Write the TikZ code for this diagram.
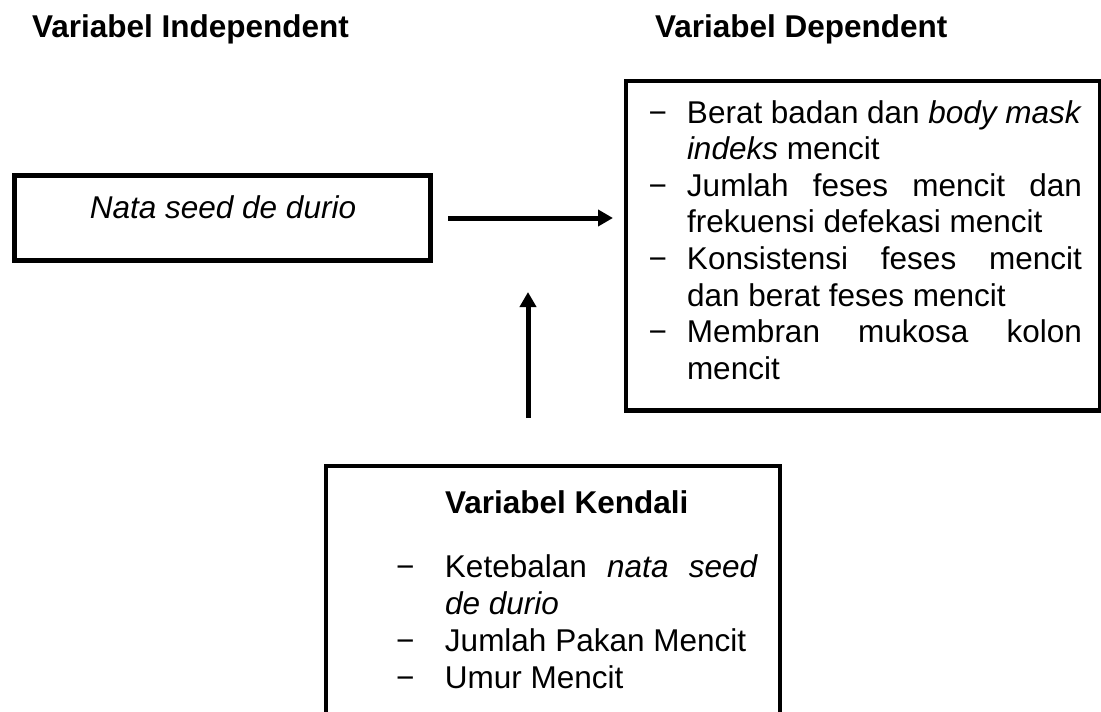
\documentclass[tikz,border=0pt]{standalone}
\usepackage{fontspec}
\setmainfont{Liberation Sans}
\usetikzlibrary{arrows.meta}
\begin{document}
\begin{tikzpicture}[x=1pt,y=-1pt,
  box/.style={draw, line width=4.5pt, outer sep=0pt, inner sep=0pt},
  txt/.style={inner sep=0pt, outer sep=0pt, font=\fontsize{31.5}{36.6}\selectfont},
  head/.style={inner sep=0pt, outer sep=0pt, font=\fontsize{31.5}{36.6}\selectfont\bfseries},
  arr/.style={line width=5pt, -{Triangle[length=15pt,width=16pt]}}]
\clip (0,0) rectangle (1101,712);
\fill[white] (0,0) rectangle (1101,712);

% headings
\node[head, anchor=base west] (hind) at (32,37) {Variabel Independent};
\node[head, anchor=base west] (hdep) at (655,37) {Variabel Dependent};

% independent box
\node[box, minimum width=416pt, minimum height=85pt] (indep) at (222.5,218) {};
\node[txt, anchor=base] (indeptxt) at (223,218) {\itshape Nata seed de durio};

% dependent box
\node[box, minimum width=474pt, minimum height=329.5pt] (dep) at (863,245.75) {};
\node[txt, anchor=base west] (deplist) at (648.5,123) {\fontsize{31.5}{36.6}\selectfont\vtop{%
  \hbox{\makebox[38.5pt][l]{−}\hbox to 395pt{Berat badan dan \textit{body mask}}}
  \hbox{\hspace*{38.5pt}\textit{indeks} mencit}
  \hbox{\makebox[38.5pt][l]{−}\hbox to 395pt{Jumlah feses mencit dan}}
  \hbox{\hspace*{38.5pt}frekuensi defekasi mencit}
  \hbox{\makebox[38.5pt][l]{−}\hbox to 395pt{Konsistensi feses mencit}}
  \hbox{\hspace*{38.5pt}dan berat feses mencit}
  \hbox{\makebox[38.5pt][l]{−}\hbox to 395pt{Membran mukosa kolon}}
  \hbox{\hspace*{38.5pt}mencit}}};

% control box
\node[box, minimum width=454pt, minimum height=280pt] (kend) at (553,606) {};
\node[head, anchor=base west] (ktitle) at (445,513) {Variabel Kendali};
\node[txt, anchor=base west] (klist) at (396,577) {\fontsize{31.5}{37}\selectfont\vtop{%
  \hbox{\makebox[49pt][l]{−}\hbox to 313pt{Ketebalan \textit{nata seed}}}
  \hbox{\hspace*{49pt}\textit{de durio}}
  \hbox{\makebox[49pt][l]{−}Jumlah Pakan Mencit}
  \hbox{\makebox[49pt][l]{−}Umur Mencit}}};

% connectors
\draw[arr, shorten <=17.5pt, shorten >=13pt] (indep.east) -- (dep.west |- indep.east);
\coordinate (ctop) at (528,292);
\draw[arr, shorten <=48pt] (kend.north -| ctop) -- (ctop);
\end{tikzpicture}
\end{document}
